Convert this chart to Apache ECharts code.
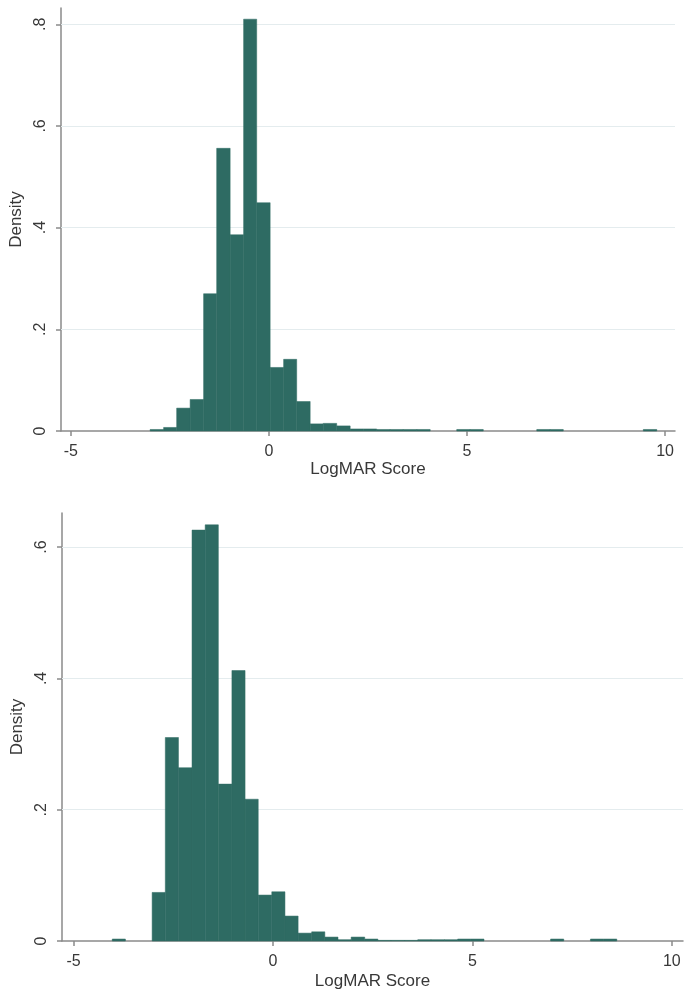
<!DOCTYPE html>
<html>
<head>
<meta charset="utf-8">
<script src="https://cdn.jsdelivr.net/npm/echarts@6/dist/echarts.min.js"></script>
<style>
html,body{margin:0;padding:0;background:#fff;}
#chart{width:684px;height:991px;}
</style>
</head>
<body>
<div id="chart"></div>
<script>
// ---------- data ----------
// Top histogram: bin edges (LogMAR) and densities
var topBinEdges = [-3.00,-2.66,-2.33,-1.99,-1.65,-1.32,-0.98,-0.64,-0.31,0.03,0.37,0.70,1.04,1.37,1.71,2.05,2.38,2.72,3.06,3.39,3.73,4.07,4.40,4.74,5.08,5.41,5.75,6.09,6.42,6.76,7.10,7.43,7.77,8.10,8.44,8.78,9.11,9.45,9.79];
var topDensity = [0.003,0.007,0.045,0.062,0.270,0.556,0.386,0.810,0.449,0.125,0.141,0.058,0.014,0.015,0.010,0.004,0.004,0.003,0.003,0.003,0.003,0,0,0.003,0.003,0,0,0,0,0.003,0.003,0,0,0,0,0,0,0.003];

// Bottom histogram
var bottomBinEdges = [-4.03,-3.70,-3.36,-3.03,-2.70,-2.37,-2.03,-1.70,-1.37,-1.03,-0.70,-0.37,-0.03,0.30,0.63,0.97,1.30,1.63,1.96,2.30,2.63,2.96,3.30,3.63,3.96,4.30,4.63,4.96,5.29,5.63,5.96,6.29,6.63,6.96,7.29,7.63,7.96,8.29,8.62];
var bottomDensity = [0.003,0,0,0.074,0.310,0.264,0.626,0.634,0.239,0.412,0.216,0.070,0.075,0.038,0.012,0.014,0.006,0.002,0.006,0.003,0.001,0.001,0.001,0.002,0.002,0.002,0.003,0.003,0,0,0,0,0,0.003,0,0,0.003,0.003];

var xTickValues = [-5, 0, 5, 10];
var xTickLabels = ['-5', '0', '5', '10'];
var topYTickValues = [0, 0.2, 0.4, 0.6, 0.8];
var topYTickLabels = ['0', '.2', '.4', '.6', '.8'];
var bottomYTickValues = [0, 0.2, 0.4, 0.6];
var bottomYTickLabels = ['0', '.2', '.4', '.6'];
var xTitle = 'LogMAR Score';
var yTitle = 'Density';

// ---------- build ----------
function toBins(edges, dens) {
  var out = [];
  for (var i = 0; i < dens.length; i++) {
    if (dens[i] > 0) out.push([edges[i], edges[i + 1], dens[i]]);
  }
  return out;
}
var BAR = '#2e6b63';
var AXIS = '#8a8a8a';
var TEXT = '#383838';
var GRIDLINE = '#e4ecee';
var FONT = '"Liberation Sans", Arial, sans-serif';

function renderHist(params, api) {
  var p0 = api.coord([api.value(0), api.value(2)]);
  var p1 = api.coord([api.value(1), 0]);
  return {
    type: 'rect',
    shape: { x: p0[0], y: p0[1], width: p1[0] - p0[0], height: p1[1] - p0[1] },
    style: { fill: BAR, stroke: BAR, lineWidth: 0.5 }
  };
}
function labelFmt(vals, labs) {
  return function (v) {
    for (var i = 0; i < vals.length; i++) if (Math.abs(vals[i] - v) < 1e-9) return labs[i];
    return '';
  };
}
function makeX(gi, min, max, gap) {
  return {
    type: 'value', gridIndex: gi, min: min, max: max,
    name: xTitle, nameLocation: 'middle', nameGap: gap,
    nameTextStyle: { fontFamily: FONT, fontSize: 17, color: TEXT },
    axisLine: { onZero: false, lineStyle: { color: AXIS, width: 1.5 } },
    axisTick: { show: true, customValues: xTickValues, length: 5, lineStyle: { color: AXIS, width: 1.5 } },
    axisLabel: { customValues: xTickValues, formatter: labelFmt(xTickValues, xTickLabels), margin: 13,
      fontFamily: FONT, fontSize: 16, color: TEXT },
    splitLine: { show: false }
  };
}
function makeY(gi, max, vals, labs) {
  return {
    type: 'value', gridIndex: gi, min: 0, max: max,
    name: yTitle, nameLocation: 'middle', nameGap: 29,
    nameTextStyle: { fontFamily: FONT, fontSize: 17, color: TEXT },
    axisLine: { show: true, onZero: false, lineStyle: { color: AXIS, width: 1.5 } },
    axisTick: { show: true, customValues: vals, length: 5, lineStyle: { color: AXIS, width: 1.5 } },
    axisLabel: { customValues: vals, formatter: labelFmt(vals, labs), rotate: 90, margin: 12,
      fontFamily: FONT, fontSize: 16, color: TEXT },
    splitLine: { show: false }
  };
}
function gridLines(xi, yi, vals) {
  return {
    type: 'line', xAxisIndex: xi, yAxisIndex: yi, data: [], z: 1, silent: true,
    markLine: {
      silent: true, symbol: ['none', 'none'], z: 1, animation: false,
      label: { show: false },
      lineStyle: { color: GRIDLINE, width: 1.2, type: 'solid' },
      data: vals.filter(function (v) { return v > 0; }).map(function (v) { return { yAxis: v }; })
    }
  };
}

var chart = echarts.init(document.getElementById('chart'), null, { renderer: 'canvas' });
chart.setOption({
  animation: false,
  backgroundColor: '#ffffff',
  grid: [
    { left: 61, top: 8, width: 614, height: 423 },
    { left: 62, top: 513, width: 621, height: 428 }
  ],
  xAxis: [makeX(0, -5.25, 10.25, 30), makeX(1, -5.29, 10.28, 32)],
  yAxis: [makeY(0, 0.832, topYTickValues, topYTickLabels), makeY(1, 0.652, bottomYTickValues, bottomYTickLabels)],
  series: [
    gridLines(0, 0, topYTickValues),
    gridLines(1, 1, bottomYTickValues),
    {
      type: 'custom', xAxisIndex: 0, yAxisIndex: 0, z: 10,
      renderItem: renderHist, encode: { x: [0, 1], y: 2 },
      data: toBins(topBinEdges, topDensity)
    },
    {
      type: 'custom', xAxisIndex: 1, yAxisIndex: 1, z: 10,
      renderItem: renderHist, encode: { x: [0, 1], y: 2 },
      data: toBins(bottomBinEdges, bottomDensity)
    }
  ]
});
</script>
</body>
</html>
